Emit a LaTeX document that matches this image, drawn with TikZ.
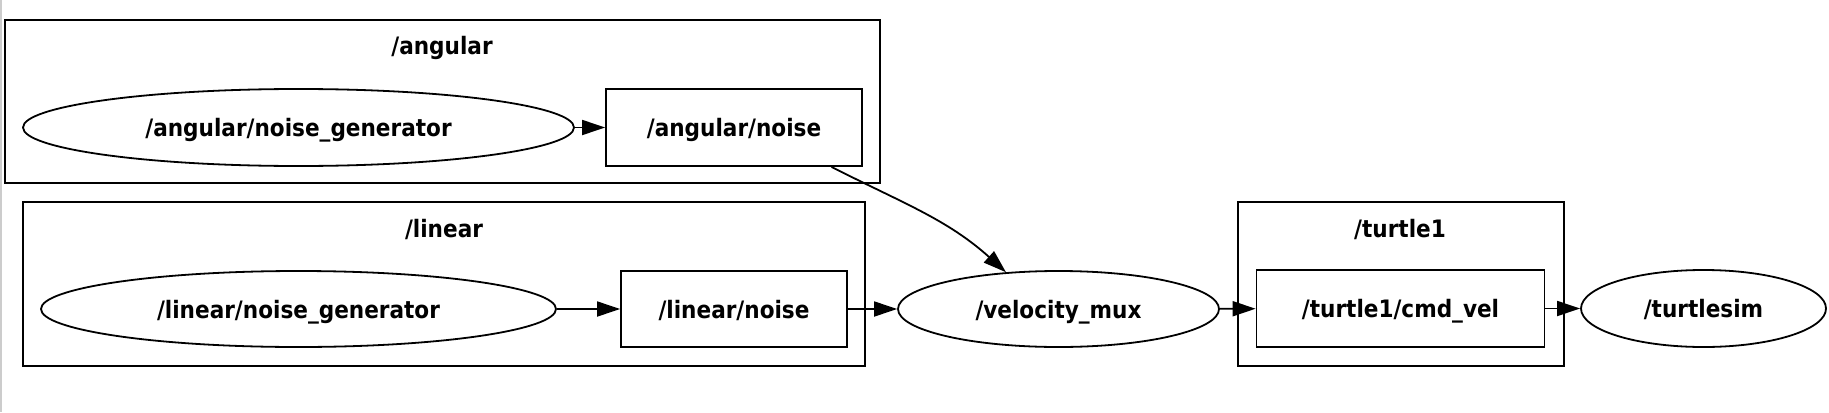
\documentclass[tikz,border=0pt]{standalone}
\usepackage{fontspec}
\newfontfamily\gvfont{DejaVu Sans Condensed}
\usetikzlibrary{shapes.geometric,arrows.meta}
\tikzset{
  gvnode/.style={draw, line width=0.9pt, inner sep=0pt, text height=12pt, text depth=3pt},
  topic/.style={gvnode, rectangle},
  proc/.style={gvnode, ellipse},
  cluster/.style={draw, line width=0.9pt, rectangle, inner sep=0pt},
  edge/.style={-{Triangle[length=11.5pt, width=7.5pt]}, line width=0.9pt}
}
\begin{document}
\begin{tikzpicture}[x=0.5pt, y=0.5pt, font=\gvfont\bfseries\fontsize{12}{14}\selectfont]
    \useasboundingbox (0,0) rectangle (1829,-412);
    \draw[gray!40, line width=1pt] (0.5,0) -- (0.5,-412);

    % 分组
    \node[cluster, minimum width=437.5pt, minimum height=81.5pt] (angular) at (442.5,-101.5) {};
    \node[anchor=base] (angular title) at (442,-54.5) {/angular};
    \node[cluster, minimum width=421pt, minimum height=82pt] (linear) at (444,-284) {};
    \node[anchor=base] (linear title) at (444,-237) {/linear};
    \node[cluster, minimum width=163pt, minimum height=82pt] (turtle1) at (1401,-284) {};
    \node[anchor=base] (turtle1 title) at (1400,-237) {/turtle1};

    % 节点
    \node[proc, minimum width=275.5pt, minimum height=38.5pt] (ang_gen) at (298.5,-127.5) {/angular/noise\_generator};
    \node[topic, minimum width=128pt, minimum height=38.5pt] (ang_noise) at (734,-127.5) {/angular/noise};
    \node[proc, minimum width=257.5pt, minimum height=38pt] (lin_gen) at (298.5,-309) {/linear/noise\_generator};
    \node[topic, minimum width=113pt, minimum height=38pt] (lin_noise) at (734,-309) {/linear/noise};
    \node[proc, minimum width=160.5pt, minimum height=38pt] (vel_mux) at (1058.5,-309) {/velocity\_mux};
    \node[topic, minimum width=144pt, minimum height=38.5pt] (cmd_vel) at (1400.5,-308.5) {/turtle1/cmd\_vel};
    \node[proc, minimum width=122.5pt, minimum height=38.5pt] (turtlesim) at (1703.5,-308.5) {/turtlesim};

    % 连线
    \draw[edge] (ang_gen) -- (ang_noise);
    \draw[edge] (lin_gen) -- (lin_noise);
    \draw[edge] (lin_noise) -- (vel_mux);
    \draw[edge] (ang_noise.-22.5) to[out=-27, in=138] (vel_mux.145);
    \draw[edge] (vel_mux) -- (cmd_vel);
    \draw[edge] (cmd_vel) -- (turtlesim);
\end{tikzpicture}
\end{document}
